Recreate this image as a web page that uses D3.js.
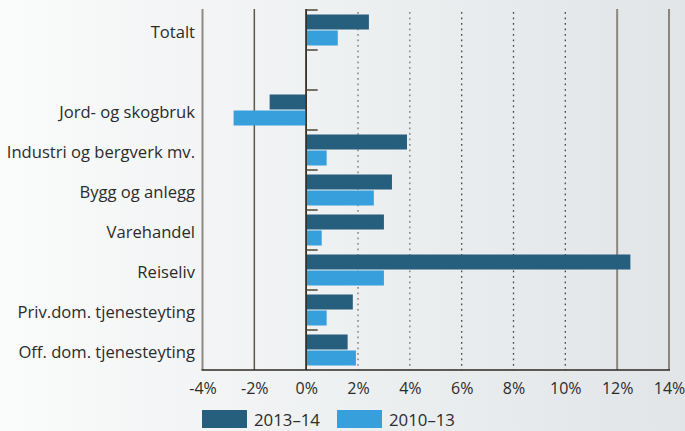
<!DOCTYPE html>
<html><head><meta charset="utf-8">
<script src="https://cdn.jsdelivr.net/npm/d3@7"></script>
<style>html,body{margin:0;padding:0;background:#eef0f1;}svg{display:block;}</style>
</head><body>
<svg id="c" width="685" height="431"></svg>
<script>
const categories = ["Totalt", "", "Jord- og skogbruk", "Industri og bergverk mv.", "Bygg og anlegg", "Varehandel", "Reiseliv", "Priv.dom. tjenesteyting", "Off. dom. tjenesteyting"];
const series2013_14 = [2.42, null, -1.41, 3.89, 3.31, 3.0, 12.51, 1.8, 1.6];
const series2010_13 = [1.22, null, -2.8, 0.79, 2.61, 0.6, 3.0, 0.79, 1.92];
const seriesNames = ["2013–14", "2010–13"];
const tickValues = [-4, -2, 0, 2, 4, 6, 8, 10, 12, 14];
const tickLabels = ["-4%", "-2%", "0%", "2%", "4%", "6%", "8%", "10%", "12%", "14%"];

const W = 685, H = 431;
const m = {left: 202.5, right: 16, top: 10, bottom: 61};
const svg = d3.select("#c");
const font = "'Open Sans', sans-serif";

const defs = svg.append("defs");
const g1 = defs.append("linearGradient").attr("id", "bg").attr("x1", "0").attr("x2", "1").attr("y1", "0").attr("y2", "0");
g1.append("stop").attr("offset", "0").attr("stop-color", "#fafbfb");
g1.append("stop").attr("offset", "1").attr("stop-color", "#e1e5e7");
svg.append("rect").attr("width", W).attr("height", H).attr("fill", "url(#bg)");

const x = d3.scaleLinear().domain([-4, 14]).range([m.left, W - m.right]);
const keys = categories.map((c, i) => "k" + i);
const y = d3.scaleBand().domain(keys).range([m.top, H - m.bottom]);

// grid lines
const gridStyle = v => {
  if (v === -4) return {c: "#8e8a80", w: 2, d: null};
  if (v === -2) return {c: "#5e5646", w: 1.5, d: null};
  if (v === 0) return {c: "#3a3122", w: 1.5, d: null};
  if (v === 12 || v === 14) return {c: "#8a867c", w: 2, d: null};
  return {c: v <= 4 ? "#77756e" : "#4a4843", w: 1.3, d: "1.8,3.7"};
};
tickValues.forEach(v => {
  const s = gridStyle(v);
  svg.append("line")
    .attr("x1", x(v)).attr("x2", x(v))
    .attr("y1", s.d ? m.top + 2 : m.top - 1).attr("y2", H - m.bottom)
    .attr("stroke", s.c).attr("stroke-width", s.w)
    .attr("stroke-dasharray", s.d);
});

// bars
const barH = 15;
categories.forEach((c, i) => {
  const k = keys[i];
  const v1 = series2013_14[i], v2 = series2010_13[i];
  if (v1 !== null) svg.append("rect")
    .attr("x", x(Math.min(0, v1))).attr("width", Math.abs(x(v1) - x(0)))
    .attr("y", y(k) + 4.5).attr("height", barH).attr("fill", "#265e7d");
  if (v2 !== null) svg.append("rect")
    .attr("x", x(Math.min(0, v2))).attr("width", Math.abs(x(v2) - x(0)))
    .attr("y", y(k) + 20.5).attr("height", barH).attr("fill", "#379fdb");
});

// zero axis redraw on top
svg.append("line").attr("x1", x(0)).attr("x2", x(0)).attr("y1", m.top - 1).attr("y2", H - m.bottom)
  .attr("stroke", "#3a3122").attr("stroke-width", 1.5);

// small ticks at band boundaries
keys.forEach(k => {
  svg.append("line").attr("x1", x(0)).attr("x2", x(0) + 11.5)
    .attr("y1", y(k)).attr("y2", y(k))
    .attr("stroke", "#4e4536").attr("stroke-width", 1.5);
});

// bottom axis
svg.append("line").attr("x1", x(-4) - 1).attr("x2", x(14) + 1)
  .attr("y1", H - m.bottom).attr("y2", H - m.bottom)
  .attr("stroke", "#2e2920").attr("stroke-width", 1.5);

// x tick labels
const xAxis = d3.axisBottom(x).tickValues(tickValues).tickSize(0).tickPadding(0)
  .tickFormat((d, i) => tickLabels[i]);
const ax = svg.append("g").attr("transform", `translate(0,${H - m.bottom})`).call(xAxis);
ax.select(".domain").remove();
ax.selectAll("text").attr("y", 24).attr("dy", 0)
  .attr("font-family", font).attr("font-size", 16).attr("fill", "#2b2b2b");

// category labels
categories.forEach((c, i) => {
  svg.append("text").attr("x", 195).attr("y", y(keys[i]) + y.bandwidth() / 2 + 7.5)
    .attr("text-anchor", "end").attr("font-family", font).attr("font-size", 16.6)
    .attr("fill", "#2b2b2b").text(c);
});

// legend
const legend = [{n: seriesNames[0], c: "#265e7d", x: 202}, {n: seriesNames[1], c: "#379fdb", x: 337}];
legend.forEach(l => {
  svg.append("rect").attr("x", l.x).attr("y", 410).attr("width", 45).attr("height", 18).attr("fill", l.c);
  svg.append("text").attr("x", l.x + 52).attr("y", 426).attr("font-family", font).attr("font-size", 16.8)
    .attr("fill", "#2b2b2b").text(l.n);
});
</script>
</body></html>
